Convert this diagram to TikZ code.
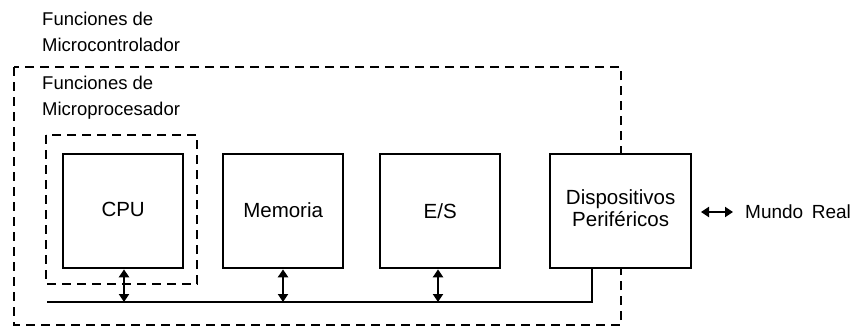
\documentclass[tikz,border=0pt]{standalone}
\usepackage{fontspec}
\setmainfont{Liberation Sans}
\usetikzlibrary{arrows.meta}
\begin{document}
\begin{tikzpicture}[x=1pt,y=-1pt,
  blk/.style={draw,fill=white,line width=2.3pt,minimum width=120pt,minimum height=114pt,anchor=north west,inner sep=0pt,align=center,font=\fontsize{20.5}{21}\selectfont},
  grp/.style={draw,line width=2.3pt,dash pattern=on 9pt off 6pt},
  lbl/.style={anchor=west,align=left,inner sep=0pt,font=\fontsize{18.5}{26}\selectfont},
  bus/.style={line width=2.3pt},
  biarrow/.style={line width=2.3pt,{Triangle[length=8pt,width=10pt]}-{Triangle[length=8pt,width=10pt]}}]
\useasboundingbox (0,0) rectangle (856,329);
% groups
\draw[grp] (14,67) rectangle (621,325);
\draw[grp] (46,135) rectangle (197,284);
\node[lbl] (t1) at (42,32) {Funciones de\\Microcontrolador};
\node[lbl] (t2) at (42,98) {Funciones de\\Microprocesador};
% blocks
\node[blk] (cpu) at (62,153) {\raisebox{3pt}{CPU}};
\node[blk] (mem) at (222,153) {\raisebox{3pt}{Memoria}};
\node[blk] (es) at (379,153) {E/S};
\node[blk,minimum width=141pt] (dp) at (549,153) {\raisebox{3pt}{\begin{tabular}{@{}c@{}}Dispositivos\\Periféricos\end{tabular}}};
% bus
\coordinate (bl) at (47,302);
\coordinate (br) at (592,302);
\draw[bus] (bl) -- (br) -- (br |- dp.south);
\coordinate (c1) at (124,302);
\coordinate (c2) at (283,302);
\coordinate (c3) at (438,302);
\draw[biarrow] (c1 |- cpu.south) -- (c1);
\draw[biarrow] (c2 |- mem.south) -- (c2);
\draw[biarrow] (c3 |- es.south) -- (c3);
% real world
\node[anchor=west,inner sep=0pt,font=\fontsize{19}{20}\selectfont] (mr) at (745,212) {Mundo\hspace{0.45em}Real};
\coordinate (a1) at (701,212);
\draw[biarrow] (a1) -- (mr.west -| 733,0);
\end{tikzpicture}
\end{document}
